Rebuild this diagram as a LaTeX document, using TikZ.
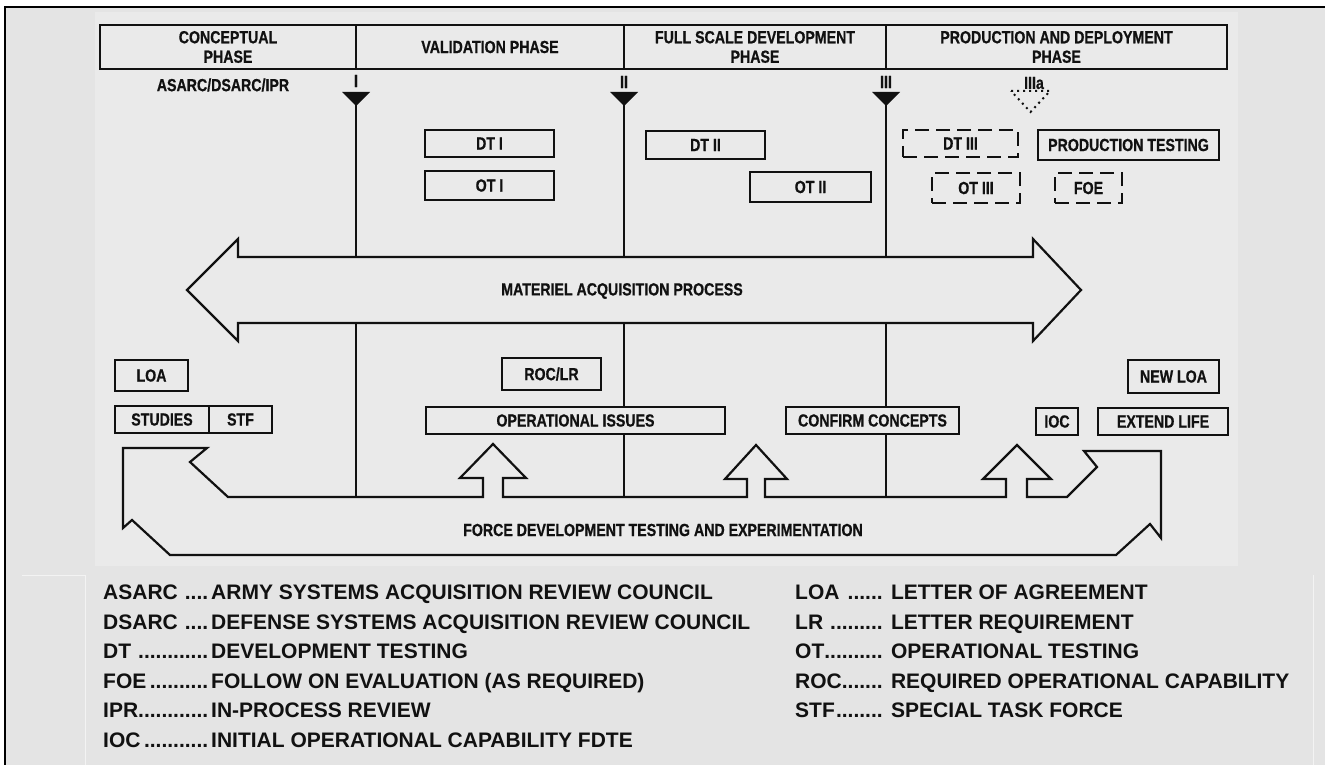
\documentclass[tikz,border=0pt]{standalone}
\usepackage{fontspec}
\setmainfont{Liberation Sans}
\newfontfamily\condf{Liberation Sans Bold}[FakeStretch=0.81,FakeBold=0.7]
\newfontfamily\legf{Liberation Sans Bold}
\usetikzlibrary{calc}
\definecolor{pagebg}{HTML}{E4E4E4}
\definecolor{scanbg}{HTML}{EAEAEA}
\definecolor{ink}{HTML}{111111}
\tikzset{
  lbl/.style={font=\condf\fontsize{17.5}{19.5}\selectfont, inner sep=0pt, align=center, text=ink},
  box/.style={draw=ink, line width=2.2pt, inner sep=0pt, align=center, text=ink,
              font=\condf\fontsize{17.5}{19.5}\selectfont},
  dbox/.style={box, dash pattern=on 14pt off 7pt},
  ln/.style={draw=ink, line width=2.2pt},
  leg/.style={anchor=base west, inner sep=0pt, text=ink, font=\legf\fontsize{21}{25}\selectfont},
}
\newcommand{\lrow}[3]{\hbox to #1{#2\leaders\hbox{.}\hfill}#3}
\begin{document}
\begin{tikzpicture}[x=1pt,y=-1pt]
\useasboundingbox (0,0) rectangle (1325,765);
% background and frame
\fill[white] (0,0) rectangle (1325,765);
\fill[pagebg] (5,7) rectangle (1325,765);
\fill[scanbg] (95,12) rectangle (1238,566);
\draw[white!55!pagebg, line width=1pt] (22,575) -- (85,575) -- (85,765);
\draw[white!55!pagebg, line width=1pt] (1313,575) -- (1313,765);
\draw[black, line width=2pt] (5,765) -- (5,7) -- (1325,7);

% phase header
\node[box, minimum width=256pt, minimum height=44pt] (ph1) at (228,47) {CONCEPTUAL\\PHASE};
\node[box, minimum width=268pt, minimum height=44pt] (ph2) at (490,47) {VALIDATION PHASE};
\node[box, minimum width=262pt, minimum height=44pt] (ph3) at (755,47) {FULL SCALE DEVELOPMENT\\PHASE};
\node[box, minimum width=341pt, minimum height=44pt] (ph4) at (1056.5,47) {PRODUCTION AND DEPLOYMENT\\PHASE};

\node[lbl] (asarc) at (223,85) {ASARC/DSARC/IPR};

% milestones
\coordinate (m1) at (356,0);
\coordinate (m2) at (624,0);
\coordinate (m3) at (886,0);
\node[lbl] (ml1) at (356,81) {I};
\node[lbl] (ml2) at (624,82) {II};
\node[lbl] (ml3) at (886,82) {III};
\node[lbl] (ml4) at (1034,83) {IIIa};
\fill[ink] (342,92) -- (370,92) -- (356,106) -- cycle;
\fill[ink] (610,92) -- (638,92) -- (624,106) -- cycle;
\fill[ink] (872,92) -- (900,92) -- (886,106) -- cycle;
\draw[ink, line width=2pt, dash pattern=on 2pt off 4pt] (1011,91) -- (1050,91) -- (1030.5,112) -- cycle;

% main acquisition arrow
\coordinate (shtop) at (0,257);
\coordinate (shbot) at (0,323);
\draw[ln, line join=miter] (187,290) -- (238,239) -- (238,257) -- (1033,257) -- (1033,239)
   -- (1081,290) -- (1033,341) -- (1033,323) -- (238,323) -- (238,341) -- cycle;
\node[lbl] (map) at (622,291) {MATERIEL ACQUISITION PROCESS};

% testing boxes (upper)
\node[box, minimum width=129pt, minimum height=27pt] (dt1) at (489.5,143.5) {DT I};
\node[box, minimum width=129pt, minimum height=29pt] (ot1) at (489.5,185.5) {OT I};
\node[box, minimum width=119pt, minimum height=28pt] (dt2) at (705.5,145) {DT II};
\node[box, minimum width=121pt, minimum height=30pt] (ot2) at (810.5,187) {OT II};
\node[dbox, minimum width=115pt, minimum height=27pt] (dt3) at (960.5,143.5) {DT III};
\node[dbox, minimum width=88pt, minimum height=30pt] (ot3) at (976,188) {OT III};
\node[box, line width=2.8pt, minimum width=181pt, minimum height=30pt] (pt) at (1128.5,145) {PRODUCTION TESTING};
\node[dbox, minimum width=67pt, minimum height=30pt] (foe) at (1088.5,188) {FOE};

% lower boxes
\node[box, minimum width=73pt, minimum height=31pt] (loa) at (151.5,375.5) {LOA};
\node[box, minimum width=94pt, minimum height=27pt] (stu) at (162,419.5) {STUDIES};
\node[box, minimum width=63pt, minimum height=27pt] (stf) at (240.5,419.5) {STF};
\node[box, minimum width=99pt, minimum height=32pt] (roc) at (551.5,374) {ROC/LR};
\node[box, minimum width=299pt, minimum height=27pt] (opi) at (575.5,420.5) {OPERATIONAL ISSUES};
\node[box, minimum width=173pt, minimum height=27pt] (cc) at (872.5,420.5) {CONFIRM CONCEPTS};
\node[box, minimum width=91pt, minimum height=33pt] (nloa) at (1173.5,376.5) {NEW LOA};
\node[box, minimum width=42pt, minimum height=27pt] (ioc) at (1057,421.5) {IOC};
\node[box, minimum width=130pt, minimum height=27pt] (ext) at (1163,421.5) {EXTEND LIFE};

% FDTE bent arrow
\coordinate (ftop) at (0,497);
\draw[ln, line join=miter] (228,497) -- (483,497) -- (483,478) -- (460,478) -- (493,444) -- (526,478) -- (503,478) -- (503,497)
  -- (747,497) -- (747,479) -- (725,479) -- (756,445) -- (787,479) -- (765,479) -- (765,497)
  -- (1006,497) -- (1006,479) -- (983,479) -- (1017,445) -- (1051,479) -- (1027,479) -- (1027,497)
  -- (1067,497) -- (1097,467) -- (1084,451) -- (1161,451) -- (1161,538) -- (1150,524) -- (1116,555)
  -- (170,555) -- (132,520) -- (123,528) -- (123,448) -- (207,448) -- (190,462) -- cycle;
\node[lbl] (fdte) at (663,530) {FORCE DEVELOPMENT TESTING AND EXPERIMENTATION};

% milestone lines
\draw[ln] (m1 |- 0,104) -- (shtop -| m1);
\draw[ln] (m2 |- 0,104) -- (shtop -| m2);
\draw[ln] (m3 |- 0,104) -- (shtop -| m3);
\draw[ln] (shbot -| m1) -- (ftop -| m1);
\draw[ln] (shbot -| m2) -- (opi.north -| m2);
\draw[ln] (opi.south -| m2) -- (ftop -| m2);
\draw[ln] (shbot -| m3) -- (cc.north -| m3);
\draw[ln] (cc.south -| m3) -- (ftop -| m3);

% legend
\node[leg] (g1) at (103,599.5) {\lrow{108pt}{ASARC }{ARMY SYSTEMS ACQUISITION REVIEW COUNCIL}};
\node[leg] (g2) at (103,629) {\lrow{108pt}{DSARC }{DEFENSE SYSTEMS ACQUISITION REVIEW COUNCIL}};
\node[leg] (g3) at (103,658.5) {\lrow{108pt}{DT }{DEVELOPMENT TESTING}};
\node[leg] (g4) at (103,688) {\lrow{108pt}{FOE}{FOLLOW ON EVALUATION (AS REQUIRED)}};
\node[leg] (g5) at (103,717.5) {\lrow{108pt}{IPR}{IN-PROCESS REVIEW}};
\node[leg] (g6) at (103,747) {\lrow{108pt}{IOC}{INITIAL OPERATIONAL CAPABILITY FDTE}};
\node[leg] (r1) at (795,599.5) {\lrow{90pt}{LOA }{ LETTER OF AGREEMENT}};
\node[leg] (r2) at (795,629) {\lrow{90pt}{LR }{ LETTER REQUIREMENT}};
\node[leg] (r3) at (795,658.5) {\lrow{90pt}{OT}{ OPERATIONAL TESTING}};
\node[leg] (r4) at (795,688) {\lrow{90pt}{ROC}{ REQUIRED OPERATIONAL CAPABILITY}};
\node[leg] (r5) at (795,717.5) {\lrow{90pt}{STF}{ SPECIAL TASK FORCE}};
\end{tikzpicture}
\end{document}
